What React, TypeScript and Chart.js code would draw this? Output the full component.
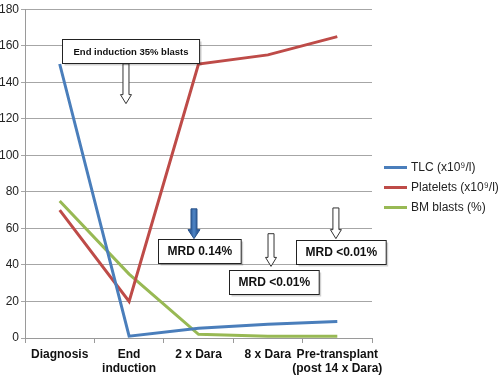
import React, { useEffect, useRef } from "react";
import { Chart, registerables } from "chart.js";

Chart.register(...registerables);

const categories: (string | string[])[] = [
  "Diagnosis",
  ["End", "induction"],
  "2 x Dara",
  "8 x Dara",
  ["Pre-transplant", "(post 14 x Dara)"],
];

const tlcValues = [150, 1, 5.3, 7.5, 9];
const plateletValues = [70, 20, 150, 155, 165];
const blastValues = [75, 35, 2, 1, 1];

const seriesLabels = ["TLC (x10\u2079/l)", "Platelets (x10\u2079/l)", "BM blasts (%)"];
const seriesColors = ["#4a7ebb", "#be4b48", "#98b954"];

const yMin = 0;
const yMax = 180;
const yStep = 20;

// Annotation callouts (positions in data space: category index, y value)
const annoTexts = ["End induction 35% blasts", "MRD 0.14%", "MRD <0.01%", "MRD <0.01%"];
const annoBoxCategory = [1.02, 2.01, 3.09, 4.05];
const annoBoxTop = [163.7, 54.4, 37.5, 53.8];
const annoArrowCategory = [0.955, 1.935, 3.045, 3.98];
const annoArrowFrom = [150.1, 70.7, 57.1, 71.2];
const annoArrowTo = [128.3, 54.4, 39.2, 54.4];
const annoArrowFilled = [false, true, false, false];
const annoFontSize = [9.5, 12, 12, 12];

const FONT = "Arial, 'Liberation Sans', sans-serif";

const annotationPlugin = {
  id: "callouts",
  afterDatasetsDraw(chart: any) {
    const ctx = chart.ctx as CanvasRenderingContext2D;
    const xs = chart.scales.x;
    const ys = chart.scales.y;
    const catW = xs.getPixelForValue(1) - xs.getPixelForValue(0);
    const px = (c: number) => xs.getPixelForValue(0) + c * catW;
    ctx.save();
    for (let i = 0; i < annoTexts.length; i++) {
      // arrow
      const ax = px(annoArrowCategory[i]);
      const y0 = ys.getPixelForValue(annoArrowFrom[i]);
      const y1 = ys.getPixelForValue(annoArrowTo[i]);
      const shaftW = 6;
      const headW = annoArrowFilled[i] ? 12 : 11;
      const headL = 9;
      ctx.beginPath();
      ctx.moveTo(ax - shaftW / 2, y0);
      ctx.lineTo(ax + shaftW / 2, y0);
      ctx.lineTo(ax + shaftW / 2, y1 - headL);
      ctx.lineTo(ax + headW / 2, y1 - headL);
      ctx.lineTo(ax, y1);
      ctx.lineTo(ax - headW / 2, y1 - headL);
      ctx.lineTo(ax - shaftW / 2, y1 - headL);
      ctx.closePath();
      if (annoArrowFilled[i]) {
        const g = ctx.createLinearGradient(ax - shaftW / 2, 0, ax + shaftW / 2, 0);
        g.addColorStop(0, "#2f5e9c");
        g.addColorStop(0.5, "#4f86c6");
        g.addColorStop(1, "#2f5e9c");
        ctx.fillStyle = g;
        ctx.fill();
        ctx.strokeStyle = "#2a5288";
        ctx.lineWidth = 1;
        ctx.stroke();
      } else {
        ctx.fillStyle = "#ffffff";
        ctx.fill();
        ctx.strokeStyle = "#333333";
        ctx.lineWidth = 1;
        ctx.stroke();
      }
      // box
      ctx.font = `bold ${annoFontSize[i]}px ${FONT}`;
      const tw = ctx.measureText(annoTexts[i]).width;
      const padX = i === 0 ? 11 : 9;
      const bw = tw + padX * 2;
      const bh = 24;
      const bx = Math.round(px(annoBoxCategory[i]) - bw / 2) + 0.5;
      const by = Math.round(ys.getPixelForValue(annoBoxTop[i])) + 0.5;
      ctx.fillStyle = "rgba(0,0,0,0.18)";
      ctx.fillRect(bx + 2, by + 2, bw, bh);
      ctx.fillStyle = "#ffffff";
      ctx.fillRect(bx, by, bw, bh);
      ctx.strokeStyle = "#222222";
      ctx.lineWidth = 1;
      ctx.strokeRect(bx, by, bw, bh);
      ctx.fillStyle = "#111111";
      ctx.textAlign = "center";
      ctx.textBaseline = "middle";
      ctx.fillText(annoTexts[i], bx + bw / 2, by + bh / 2 + 0.5);
    }
    ctx.restore();
  },
};

const legendPlugin = {
  id: "customLegend",
  afterDraw(chart: any) {
    const ctx = chart.ctx as CanvasRenderingContext2D;
    const left = chart.chartArea.right + 12;
    const lineW = 23;
    const centerY = chart.height / 2;
    const spacing = 20;
    const n = chart.data.datasets.length;
    ctx.save();
    ctx.font = `12px ${FONT}`;
    ctx.textBaseline = "middle";
    ctx.textAlign = "left";
    chart.data.datasets.forEach((ds: any, i: number) => {
      const y = centerY + (i - (n - 1) / 2) * spacing;
      ctx.strokeStyle = ds.borderColor;
      ctx.lineWidth = 3;
      ctx.beginPath();
      ctx.moveTo(left, y);
      ctx.lineTo(left + lineW, y);
      ctx.stroke();
      ctx.fillStyle = "#222222";
      ctx.fillText(ds.label, left + lineW + 4, y);
    });
    ctx.restore();
  },
};

export default function App() {
  const canvasRef = useRef<HTMLCanvasElement | null>(null);

  useEffect(() => {
    if (!canvasRef.current) return;
    const values = [tlcValues, plateletValues, blastValues];
    const chart = new Chart(canvasRef.current, {
      type: "line",
      data: {
        labels: categories,
        datasets: values.map((v, i) => ({
          label: seriesLabels[i],
          data: v,
          borderColor: seriesColors[i],
          backgroundColor: seriesColors[i],
          borderWidth: 3,
          pointRadius: 0,
          tension: 0,
          fill: false,
        })),
      },
      options: {
        animation: false,
        responsive: false,
        events: [],
        layout: { padding: { left: 0, right: 128, top: 0, bottom: 0 } },
        plugins: {
          legend: { display: false },
          tooltip: { enabled: false },
        },
        scales: {
          x: {
            offset: true,
            grid: {
              offset: true,
              drawOnChartArea: false,
              drawTicks: true,
              tickLength: 5,
              color: "#9a9a9a",
            },
            border: { color: "#9a9a9a", width: 1 },
            ticks: {
              color: "#111111",
              font: { family: FONT, size: 12, weight: "bold", lineHeight: 1.2 },
              maxRotation: 0,
              autoSkip: false,
              padding: 4,
            },
            afterFit(scale: any) {
              scale.height = 37;
            },
          },
          y: {
            min: yMin,
            max: yMax,
            ticks: {
              stepSize: yStep,
              color: "#222222",
              font: { family: FONT, size: 12 },
              padding: 2,
            },
            grid: {
              color: "#a6a6a6",
              tickLength: 4,
              drawTicks: true,
            },
            border: { color: "#9a9a9a", width: 1 },
            afterFit(scale: any) {
              scale.width = 25;
            },
          },
        },
      },
      plugins: [annotationPlugin, legendPlugin],
    });
    return () => chart.destroy();
  }, []);

  return (
    <div style={{ position: "absolute", left: 0, top: 0, width: 500, height: 375, background: "#fff" }}>
      <canvas ref={canvasRef} width={500} height={375} style={{ display: "block" }} />
    </div>
  );
}
